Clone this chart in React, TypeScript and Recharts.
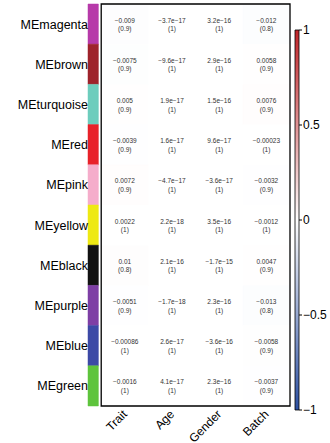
import { ComposedChart, BarChart, Bar, Scatter, XAxis, YAxis, ReferenceArea } from 'recharts'

const modules = ['MEmagenta', 'MEbrown', 'MEturquoise', 'MEred', 'MEpink', 'MEyellow', 'MEblack', 'MEpurple', 'MEblue', 'MEgreen']
const moduleColors = ['#b73aa9', '#9e232b', '#6dcdbd', '#e8222a', '#f5adcb', '#eee913', '#121212', '#7e3fa5', '#3c4aa6', '#5ec43c']
const traits = ['Trait', 'Age', 'Gender', 'Batch']

// correlations, one array per trait column (module order as above)
const corTrait = [-0.009, -0.0075, 0.005, -0.0039, 0.0072, 0.0022, 0.01, -0.0051, -0.00086, -0.0016]
const corAge = [-3.7e-17, -9.6e-17, 1.9e-17, 1.6e-17, -4.7e-17, 2.2e-18, 2.1e-16, -1.7e-18, 2.6e-17, 4.1e-17]
const corGender = [3.2e-16, 2.9e-16, 1.5e-16, 9.6e-17, -3.6e-17, 3.5e-16, -1.7e-15, 2.3e-16, -3.6e-16, 2.3e-16]
const corBatch = [-0.012, 0.0058, 0.0076, -0.00023, -0.0032, -0.0012, 0.0047, -0.013, -0.0058, -0.0037]

// p-values
const pTrait = [0.9, 0.9, 0.9, 0.9, 0.9, 1, 0.8, 0.9, 1, 1]
const pAge = [1, 1, 1, 1, 1, 1, 1, 1, 1, 1]
const pGender = [1, 1, 1, 1, 1, 1, 1, 1, 1, 1]
const pBatch = [0.8, 0.9, 0.9, 1, 0.9, 1, 0.9, 0.8, 0.9, 0.9]

const legendTicks = [-1, -0.5, 0, 0.5, 1]

const corCols = [corTrait, corAge, corGender, corBatch]
const pCols = [pTrait, pAge, pGender, pBatch]

const cells = modules.flatMap((_, i) =>
  traits.map((_, j) => ({ x: j + 0.5, y: i + 0.5, r: corCols[j][i], p: pCols[j][i] }))
)

const FONT = '"Liberation Sans", Arial, sans-serif'
const BLUE = [44, 80, 162]
const RED = [192, 36, 40]

function bwr(r: number) {
  const end = r < 0 ? BLUE : RED
  const t = Math.min(1, Math.abs(r))
  const c = end.map((v) => Math.round(255 + (v - 255) * t))
  return `rgb(${c.join(',')})`
}

function fmt(v: number) {
  const s = v !== 0 && Math.abs(v) < 1e-4 ? v.toExponential(1) : String(v)
  return s.replace(/-/g, '\u2212')
}

function CellText({ cx, cy, payload }: any) {
  return (
    <g fontFamily={FONT} fontSize={6.5} textAnchor="middle">
      <text x={cx} y={cy - 1.5} fill="#333">{fmt(payload.r)}</text>
      <text x={cx} y={cy + 7} fill="#333">({payload.p})</text>
    </g>
  )
}

function XTick({ x, y, payload }: any) {
  const tx = x + 3
  const ty = y + 1
  return (
    <text x={tx} y={ty} transform={`rotate(-45, ${tx}, ${ty})`} textAnchor="end"
      fontFamily={FONT} fontSize={12} fill="#000">
      {traits[Math.floor(payload.value)]}
    </text>
  )
}

export default function App() {
  return (
    <div style={{ position: 'absolute', left: 0, top: 0, width: 330, height: 443, background: '#fff' }}>
      <ComposedChart width={330} height={443} margin={{ top: 4, right: 40, bottom: 0, left: 0 }}>
        <XAxis dataKey="x" type="number" domain={[-0.28, 4]} allowDataOverflow
          ticks={[0.5, 1.5, 2.5, 3.5]} interval={0} height={37}
          axisLine={false} tickLine={false} tick={<XTick />} />
        <YAxis dataKey="y" type="number" domain={[0, 10]} reversed allowDataOverflow
          ticks={[0.5, 1.5, 2.5, 3.5, 4.5, 5.5, 6.5, 7.5, 8.5, 9.5]} interval={0} width={88}
          axisLine={false} tickLine={false} tickSize={0} tickMargin={0}
          tick={{ fontSize: 12.5, fill: '#000', fontFamily: FONT }}
          tickFormatter={(v: number) => modules[Math.floor(v)]} />
        {modules.map((m, i) => (
          <ReferenceArea key={m} x1={-0.28} x2={-0.06} y1={i} y2={i + 1}
            fill={moduleColors[i]} fillOpacity={1} stroke={moduleColors[i]} strokeWidth={0.5} />
        ))}
        {cells.map((c) => (
          <ReferenceArea key={`${c.x}-${c.y}`} x1={c.x - 0.5} x2={c.x + 0.5} y1={c.y - 0.5} y2={c.y + 0.5}
            fill={bwr(c.r)} fillOpacity={1} stroke={bwr(c.r)} strokeWidth={0.5} />
        ))}
        <ReferenceArea x1={0} x2={4} y1={0} y2={10} fill="none" stroke="#000" strokeWidth={1.3} />
        <Scatter data={cells} dataKey="y" shape={<CellText />} isAnimationActive={false} />
      </ComposedChart>

      <div style={{ position: 'absolute', left: 280, top: 0 }}>
        <BarChart width={50} height={443} data={[{ name: 'cor', range: [-1, 1] }]}
          margin={{ top: 30, right: 0, bottom: 33, left: 15 }} barCategoryGap={0}>
          <defs>
            <linearGradient id="cbGrad" x1="0" y1="0" x2="0" y2="1">
              <stop offset="0%" stopColor={`rgb(${RED.join(',')})`} />
              <stop offset="50%" stopColor="#fff" />
              <stop offset="100%" stopColor={`rgb(${BLUE.join(',')})`} />
            </linearGradient>
          </defs>
          <XAxis dataKey="name" hide />
          <YAxis type="number" orientation="right" domain={[-1, 1]} ticks={legendTicks} interval={0}
            width={31} axisLine={false} tickSize={3} tickMargin={1}
            tickLine={{ stroke: '#000' }}
            tick={{ fontSize: 12, fill: '#000', fontFamily: FONT }}
            tickFormatter={(v: number) => String(v).replace('-', '\u2212')} />
          <Bar dataKey="range" fill="url(#cbGrad)" stroke="#000" strokeWidth={0.8} isAnimationActive={false} />
        </BarChart>
      </div>
    </div>
  )
}
